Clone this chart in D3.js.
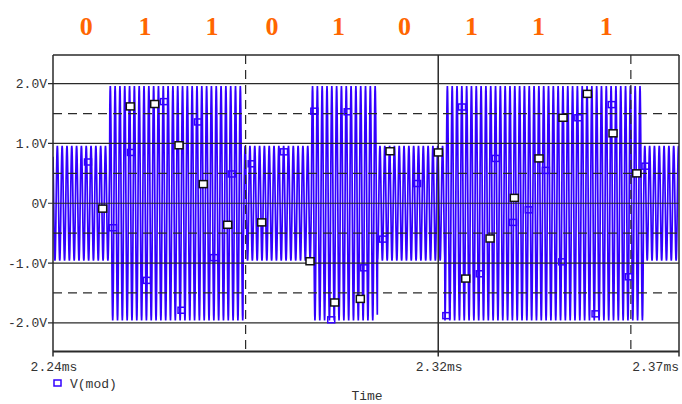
<!DOCTYPE html>
<html lang="en">
<head>
<meta charset="utf-8">
<title>V(mod)</title>
<script src="https://d3js.org/d3.v7.min.js"></script>
<style>
  body { margin: 0; background: #fff; }
  text { font-family: "Liberation Mono", monospace; font-size: 13px; fill: #333; }
</style>
</head>
<body>
<script>
// bit labels over the trace and where they sit (time in us)
var bits = ["0", "1", "1", "0", "1", "0", "1", "1", "1"];
var bitTimes = [2246.9, 2259.1, 2273.0, 2285.5, 2299.3, 2313.0, 2326.9, 2340.8, 2354.9];

// carrier bursts: start time (us) and peak volts
var segStart = [2240, 2251.8, 2279.5, 2293.7, 2307.4, 2321.4, 2362.7];
var segAmp   = [0.96, 1.96, 0.96, 1.96, 0.96, 1.96, 0.96];
var tEnd = 2370;
var carrierPeriod = 1.0;   // us
var carrierPhase = 2240.65;

// square markers on the trace [t us, V]
var blueMarks = [
  [2247.27, 0.69], [2252.46, -0.41], [2256.20, 0.85], [2259.52, -1.29], [2263.05, 1.70],
  [2266.69, -1.79], [2270.11, 1.36], [2273.44, -0.91], [2277.11, 0.49], [2281.27, 0.66],
  [2287.98, 0.86], [2294.27, 1.54], [2297.78, -1.95], [2301.20, 1.53], [2304.59, -1.08],
  [2308.54, -0.60], [2315.60, 0.33], [2321.68, -1.88], [2324.94, 1.61], [2328.62, -1.18],
  [2331.94, 0.75], [2335.53, -0.32], [2338.82, -0.11], [2342.35, 0.55], [2345.75, -0.98],
  [2349.10, 1.43], [2352.67, -1.85], [2356.03, 1.65], [2359.58, -1.23], [2363.05, 0.62]
];
var whiteMarks = [
  [2250.32, -0.09], [2256.05, 1.62], [2261.12, 1.66], [2266.17, 0.97], [2271.21, 0.32],
  [2276.28, -0.36], [2283.34, -0.32], [2293.37, -0.97], [2298.50, -1.66], [2303.82, -1.60],
  [2309.99, 0.87], [2320.02, 0.85], [2325.71, -1.26], [2330.76, -0.59], [2335.80, 0.09],
  [2340.93, 0.75], [2345.92, 1.43], [2350.96, 1.83], [2356.30, 1.17], [2361.22, 0.50]
];

var yTicks = [2, 1, 0, -1, -2];
var yTickText = ["2.0V", "1.0V", "0V", "-1.0V", "-2.0V"];
var yDash = [1.5, 0.5, -0.5, -1.5];
var xTicks = [2240, 2320, 2370];
var xTickText = ["2.24ms", "2.32ms", "2.37ms"];
var xDash = [2280, 2360];

var w = 682, h = 404;
var pL = 53, pR = 679, pT = 55, pB = 351.5;
var blue = "#3300ff", gridCol = "#2a2a2a";

var x = d3.scaleLinear().domain([2240, 2370]).range([pL, pR]);
var y = d3.scaleLinear().domain([-2.48, 2.48]).range([pB, pT]);

var svg = d3.select("body").append("svg").attr("width", w).attr("height", h);

// bit labels
svg.selectAll("text.bit")
  .data(bits)
  .enter()
  .append("text")
  .attr("class", "bit")
  .attr("x", function(d, i) { return x(bitTimes[i]); })
  .attr("y", 35)
  .attr("text-anchor", "middle")
  .style("font-family", "'Liberation Serif', serif")
  .style("font-weight", "bold")
  .style("font-size", "26px")
  .style("fill", "#ff6600")
  .text(function(d) { return d; });

svg.append("clipPath").attr("id", "plot")
  .append("rect").attr("x", pL).attr("y", pT)
  .attr("width", pR - pL).attr("height", pB - pT);

// build the trace from the bursts
var trace = [];
segStart.forEach(function(s, i) {
  var e = i < segStart.length - 1 ? segStart[i + 1] : tEnd;
  for (var t = s; t < e; t += 0.05) {
    trace.push([t, segAmp[i] * Math.sin(2 * Math.PI * (t - carrierPhase) / carrierPeriod)]);
  }
});

var line = d3.line()
  .x(function(d) { return x(d[0]); })
  .y(function(d) { return y(d[1]); });

svg.append("path")
  .datum(trace)
  .attr("clip-path", "url(#plot)")
  .attr("d", line)
  .attr("fill", "none")
  .attr("stroke", blue)
  .attr("stroke-width", 1.7);

// grid on top of the trace
var grid = svg.append("g").attr("stroke", gridCol).attr("fill", "none");

grid.selectAll("line.ys")
  .data(yTicks).enter().append("line")
  .attr("x1", pL - 5).attr("x2", pR)
  .attr("y1", function(d) { return y(d); }).attr("y2", function(d) { return y(d); })
  .attr("stroke-width", 1.2);

grid.selectAll("line.yd")
  .data(yDash).enter().append("line")
  .attr("x1", pL).attr("x2", pR)
  .attr("y1", function(d) { return y(d); }).attr("y2", function(d) { return y(d); })
  .attr("stroke-width", 1.2)
  .attr("stroke-dasharray", "9,6");

grid.selectAll("line.xs")
  .data(xTicks).enter().append("line")
  .attr("x1", function(d) { return x(d); }).attr("x2", function(d) { return x(d); })
  .attr("y1", pT).attr("y2", pB + 5)
  .attr("stroke-width", 1.5);

grid.selectAll("line.xd")
  .data(xDash).enter().append("line")
  .attr("x1", function(d) { return x(d); }).attr("x2", function(d) { return x(d); })
  .attr("y1", pT).attr("y2", pB)
  .attr("stroke-width", 1.2)
  .attr("stroke-dasharray", "9,6");

// frame
grid.append("line").attr("x1", pL).attr("x2", pR).attr("y1", pT).attr("y2", pT).attr("stroke-width", 1.5);
grid.append("line").attr("x1", pL).attr("x2", pR).attr("y1", pB).attr("y2", pB).attr("stroke-width", 1.8);

// markers
svg.selectAll("rect.bm")
  .data(blueMarks).enter().append("rect")
  .attr("x", function(d) { return x(d[0]) - 3.5; })
  .attr("y", function(d) { return y(d[1]) - 3; })
  .attr("width", 7).attr("height", 6)
  .attr("fill", "none").attr("stroke", blue).attr("stroke-width", 1.5);

svg.selectAll("rect.wm")
  .data(whiteMarks).enter().append("rect")
  .attr("x", function(d) { return x(d[0]) - 4; })
  .attr("y", function(d) { return y(d[1]) - 3.5; })
  .attr("width", 8).attr("height", 7)
  .attr("fill", "#fff").attr("stroke", "#111").attr("stroke-width", 1.5);

// axis text
svg.selectAll("text.yl")
  .data(yTicks).enter().append("text")
  .attr("x", 47).attr("y", function(d) { return y(d); })
  .attr("dy", "0.35em")
  .attr("text-anchor", "end")
  .text(function(d, i) { return yTickText[i]; });

svg.selectAll("text.xl")
  .data(xTicks).enter().append("text")
  .attr("x", function(d, i) { return i == xTicks.length - 1 ? x(d) : x(d) + 1; })
  .attr("y", 371)
  .attr("text-anchor", function(d, i) { return i == xTicks.length - 1 ? "end" : "middle"; })
  .text(function(d, i) { return xTickText[i]; });

// legend
svg.append("rect").attr("x", 54).attr("y", 380).attr("width", 7).attr("height", 6)
  .attr("fill", "none").attr("stroke", blue).attr("stroke-width", 1.5);
svg.append("text").attr("x", 70).attr("y", 388).text("V(mod)");

svg.append("text").attr("x", 367).attr("y", 400).attr("text-anchor", "middle").text("Time");
</script>
</body>
</html>
